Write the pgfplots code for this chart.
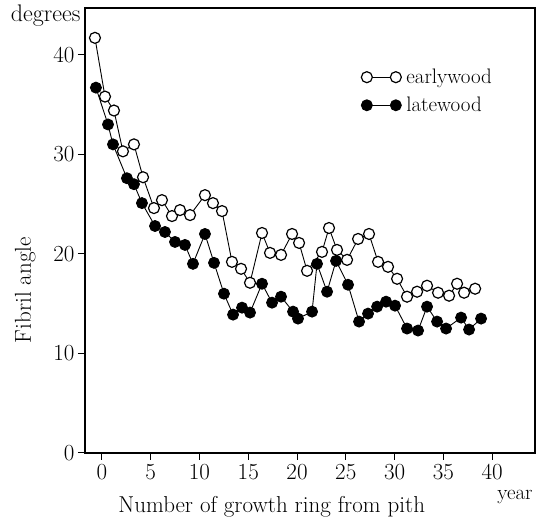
\documentclass[border=0pt]{standalone}
\usepackage{pgfplots}
\pgfplotsset{compat=1.18}
\begin{document}
\begin{tikzpicture}[font=\fontsize{21}{25}\selectfont]
\begin{axis}[
  clip=false,
  scale only axis, width=450pt, height=445pt,
  xmin=-1.74, xmax=44.4, ymin=0, ymax=44.7,
  xtick={0,5,...,40}, ytick={0,10,...,40},
  tick align=outside, xtick pos=bottom, ytick pos=left,
  major tick length=7pt,
  tick style={black, line width=1pt},
  axis line style={line width=1.1pt},
  /pgf/number format/assume math mode=true,
  ticklabel style={font=\fontsize{23}{27}\selectfont},
  xticklabel style={yshift=-1pt},
  xlabel={Number of growth ring from pith},
  ylabel={Fibril angle},
  label style={font=\fontsize{23}{27}\selectfont},
  xlabel style={at={(rel axis cs:0.415,-0.12)}, anchor=center},
  ylabel style={at={(rel axis cs:-0.133,0.366)}, anchor=center},
  legend cell align=left,
  legend style={draw=none, fill=none, at={(rel axis cs:0.607,0.872)}, anchor=north west, row sep=8pt, font=\fontsize{21}{25}\selectfont, nodes={inner xsep=5pt}},
  legend image code/.code={\draw[#1] plot coordinates {(0pt,0pt) (29pt,0pt)};},
]
\addplot[black, line width=0.9pt, mark=*, mark size=5.5pt, mark options={fill=white, draw=black, line width=1.2pt}] coordinates {
(-0.72,41.7) (0.31,35.8) (1.23,34.4) (2.15,30.3) (3.28,31.0) (4.21,27.7) (5.33,24.6) (6.15,25.4) (7.18,23.8) (8.0,24.4) (9.03,23.9) (10.56,25.9) (11.38,25.1) (12.31,24.3) (13.33,19.2) (14.26,18.5) (15.18,17.1) (16.41,22.1) (17.23,20.1) (18.36,19.9) (19.49,22.0) (20.21,21.1) (21.03,18.3) (22.56,20.2) (23.28,22.6) (24.10,20.4) (25.13,19.4) (26.26,21.5) (27.38,22.0) (28.31,19.2) (29.33,18.7) (30.26,17.5) (31.28,15.7) (32.31,16.2) (33.33,16.8) (34.46,16.1) (35.59,15.8) (36.41,17.0) (37.13,16.1) (38.26,16.5)
};
\addlegendentry{earlywood}
\addplot[black, line width=0.9pt, mark=*, mark size=5.5pt, mark options={fill=black, draw=black}] coordinates {
(-0.62,36.7) (0.62,33.0) (1.13,31.0) (2.56,27.6) (3.28,27.0) (4.10,25.1) (5.44,22.8) (6.46,22.2) (7.49,21.2) (8.51,20.9) (9.33,19.0) (10.56,22.0) (11.49,19.1) (12.51,16.0) (13.44,13.9) (14.36,14.6) (15.18,14.1) (16.41,17.0) (17.44,15.1) (18.36,15.7) (19.59,14.2) (20.10,13.5) (21.54,14.2) (22.05,19.0) (23.08,16.2) (24.0,19.3) (25.23,16.9) (26.36,13.2) (27.28,14.0) (28.21,14.7) (29.13,15.2) (30.05,14.8) (31.28,12.5) (32.41,12.3) (33.33,14.7) (34.36,13.2) (35.28,12.5) (36.82,13.6) (37.64,12.4) (38.87,13.5)
};
\addlegendentry{latewood}
\node[anchor=east, font=\fontsize{24}{28}\selectfont] at (rel axis cs:0,1) [xshift=-1pt, yshift=-8pt] {degrees};
\node[anchor=center, font=\fontsize{21}{25}\selectfont] at (rel axis cs:1,0) [xshift=-20pt, yshift=-44pt] {year};
\end{axis}
\pgfresetboundingbox
\path (-85pt,-68pt) rectangle (451pt,453pt);
\end{tikzpicture}
\end{document}
